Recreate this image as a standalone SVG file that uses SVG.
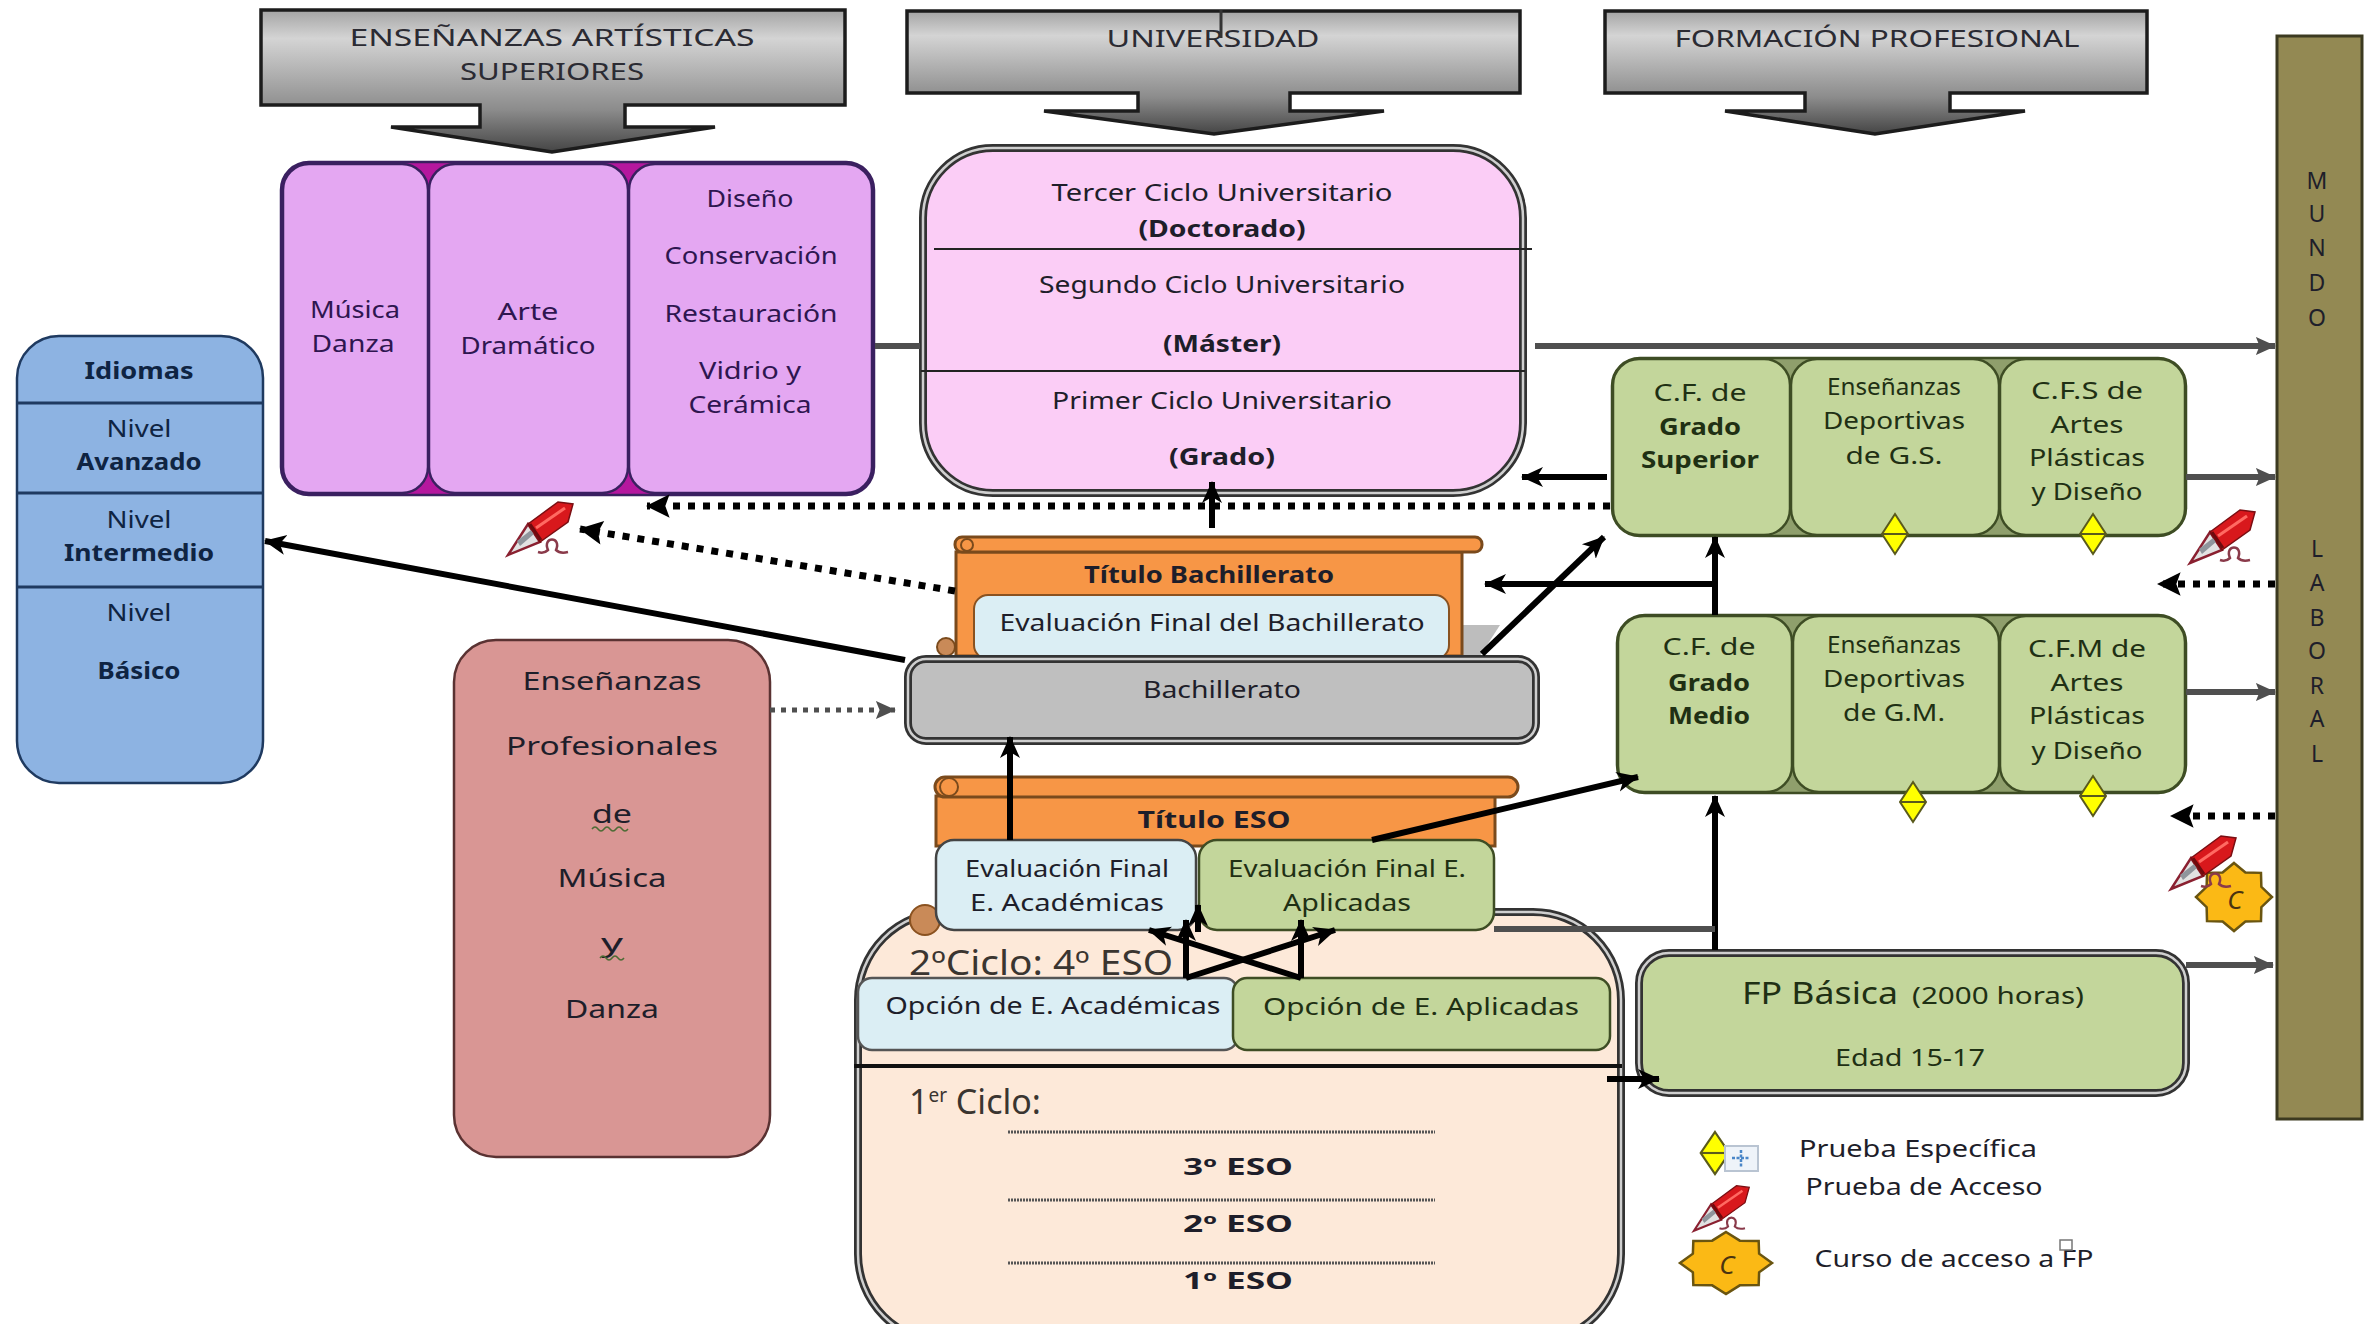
<svg xmlns="http://www.w3.org/2000/svg" width="2379" height="1324" viewBox="0 0 2379 1324">
<style>
text{font-family:"Noto Sans","Open Sans",sans-serif;font-size:23px;text-anchor:middle;fill:#1e1e2a;transform:translateY(1.5px)}
.b{font-weight:700}
.pk text{fill:#2e1650}
.gr text{fill:#1f3014}
.bl text{fill:#0f2442}
.hd text{fill:#2b2b33}
.sf{font-size:34px;fill:#3a3530;text-anchor:start}
.conn line,.conn path{fill:none}
.k{stroke:#000;stroke-width:6;marker-end:url(#ah)}
.kn{stroke:#000;stroke-width:6}
.g{stroke:#4f4f4f;stroke-width:6;marker-end:url(#ag)}
.gn{stroke:#4f4f4f;stroke-width:6}
.d{stroke:#000;stroke-width:7;stroke-dasharray:7 8;marker-end:url(#ad)}
.dg{stroke:#4f4f4f;stroke-width:5;stroke-dasharray:5 6;marker-end:url(#ag)}
.o1{stroke:#333;stroke-width:8}
.o2{fill:none;stroke:#cfcfcf;stroke-width:2.5}
.hdr{fill:url(#hg);stroke:#1c1c1c;stroke-width:3.5}
.pks{fill:#e4a7f2;stroke:#3a2060;stroke-width:2.5}
.grs{fill:#c3d69b;stroke:#3e4d24;stroke-width:2.5}
.sc{fill:#f79646;stroke:#7a4a1c;stroke-width:3}
.dot{stroke:#555;stroke-width:3;stroke-dasharray:2 1;fill:none}
</style>
<defs>
<linearGradient id="hg" x1="0" y1="0" x2="0" y2="1">
<stop offset="0" stop-color="#a4a4a4"/><stop offset=".2" stop-color="#d4d4d4"/><stop offset=".7" stop-color="#8c8c8c"/><stop offset="1" stop-color="#454545"/>
</linearGradient>
<marker id="ah" viewBox="0 0 22 22" refX="21" refY="11" markerWidth="22" markerHeight="22" markerUnits="userSpaceOnUse" orient="auto"><path d="M22,11 L0,1 L6,11 L0,21 z" fill="#000"/></marker>
<marker id="ag" viewBox="0 0 22 22" refX="21" refY="11" markerWidth="20" markerHeight="22" markerUnits="userSpaceOnUse" orient="auto"><path d="M22,11 L0,1 L4,11 L0,21 z" fill="#4f4f4f"/></marker>
<marker id="ad" viewBox="0 0 26 22" refX="25" refY="11" markerWidth="28" markerHeight="24" markerUnits="userSpaceOnUse" orient="auto"><path d="M26,11 L4,0 L8,11 L4,22 z" fill="#000"/></marker>
<g id="dia"><polygon points="0,-20 13,0 0,20 -13,0" fill="#ffff00" stroke="#5a5a1c" stroke-width="2"/><line x1="-13" y1="0" x2="13" y2="0" stroke="#5a5a1c" stroke-width="2"/></g>
<g id="pen">
<polygon points="20,24 32,42 0,55" fill="#e2e2e2" stroke="#8a2030" stroke-width="2.5"/>
<polygon points="9,41 23,30 26,34 12,46" fill="#8f959c"/>
<polygon points="20,24 50,2 65,4 60,22 32,42" fill="#d8181c" stroke="#7a0e12" stroke-width="1.5"/>
<line x1="28" y1="28" x2="57" y2="8" stroke="#ff6a62" stroke-width="3"/>
<line x1="22" y1="24" x2="33" y2="40" stroke="#6e0a0e" stroke-width="3"/>
<path d="M30,52 q6,2 10,-2 c-6,-14 14,-14 8,0 q4,4 12,2" fill="none" stroke="#8a3a4a" stroke-width="2.5"/>
</g>
<polygon id="star" points="0,-100 30,-72 71,-71 72,-30 100,0 72,30 71,71 30,72 0,100 -30,72 -71,71 -72,30 -100,0 -72,-30 -71,-71 -30,-72" fill="#fbb915" stroke="#6a5510" stroke-width="2.5" vector-effect="non-scaling-stroke"/>
</defs>
<rect width="2379" height="1324" fill="#fff"/>

<g id="hdr-artisticas" class="hd">
<path class="hdr" d="M261,10 H845 V105 H625 V127 H715 L552,152 L391,127 H480 V105 H261 Z"/>
<text x="552" y="44" textLength="405" lengthAdjust="spacingAndGlyphs">ENSEÑANZAS ARTÍSTICAS</text>
<text x="552" y="78" textLength="184" lengthAdjust="spacingAndGlyphs">SUPERIORES</text>
</g>
<g id="hdr-universidad" class="hd">
<path class="hdr" d="M907,11 H1520 V93 H1290 V111 H1384 L1214,134 L1044,111 H1138 V93 H907 Z"/>
<text x="1213" y="45" textLength="213" lengthAdjust="spacingAndGlyphs">UNIVERSIDAD</text>
<line x1="1221" y1="10" x2="1221" y2="38" stroke="#333" stroke-width="3"/>
</g>
<g id="hdr-fp" class="hd">
<path class="hdr" d="M1605,11 H2147 V93 H1950 V111 H2025 L1875,134 L1725,111 H1805 V93 H1605 Z"/>
<text x="1877" y="45" textLength="405" lengthAdjust="spacingAndGlyphs">FORMACIÓN PROFESIONAL</text>
</g>

<g id="mundo-laboral">
<rect x="2277" y="36" width="85" height="1083" fill="#938953" stroke="#3c3a20" stroke-width="3"/>
<text x="2317" y="187">M</text><text x="2317" y="220">U</text><text x="2317" y="254">N</text><text x="2317" y="289">D</text><text x="2317" y="324">O</text>
<text x="2317" y="555">L</text><text x="2317" y="589">A</text><text x="2317" y="624">B</text><text x="2317" y="657">O</text><text x="2317" y="692">R</text><text x="2317" y="725">A</text><text x="2317" y="760">L</text>
</g>

<g id="artisticas" class="pk">
<rect x="281" y="162" width="593" height="333" rx="28" fill="#b5179e" stroke="#3a2060" stroke-width="2.5"/>
<rect class="pks" x="283" y="164" width="145" height="329" rx="26"/>
<rect class="pks" x="429" y="164" width="199" height="329" rx="26"/>
<rect class="pks" x="629" y="164" width="243" height="329" rx="26"/>
<text x="355" y="316" textLength="90" lengthAdjust="spacingAndGlyphs">Música</text>
<text x="353" y="350" textLength="83" lengthAdjust="spacingAndGlyphs">Danza</text>
<text x="528" y="318" textLength="61" lengthAdjust="spacingAndGlyphs">Arte</text>
<text x="528" y="352" textLength="135" lengthAdjust="spacingAndGlyphs">Dramático</text>
<text x="750" y="205" textLength="87" lengthAdjust="spacingAndGlyphs">Diseño</text>
<text x="751" y="262" textLength="173" lengthAdjust="spacingAndGlyphs">Conservación</text>
<text x="751" y="320" textLength="173" lengthAdjust="spacingAndGlyphs">Restauración</text>
<text x="750" y="377" textLength="102" lengthAdjust="spacingAndGlyphs">Vidrio y</text>
<text x="750" y="411" textLength="123" lengthAdjust="spacingAndGlyphs">Cerámica</text>
</g>

<g id="universidad">
<rect class="o1" x="923" y="148" width="600" height="345" rx="70" fill="#fbcdf6"/>
<rect class="o2" x="923" y="148" width="600" height="345" rx="70"/>
<line x1="934" y1="249" x2="1532" y2="249" stroke="#222" stroke-width="2"/>
<line x1="921" y1="371" x2="1525" y2="371" stroke="#222" stroke-width="2"/>
<text x="1222" y="199" textLength="341" lengthAdjust="spacingAndGlyphs">Tercer Ciclo Universitario</text>
<text class="b" x="1222" y="235" textLength="167" lengthAdjust="spacingAndGlyphs">(Doctorado)</text>
<text x="1222" y="291" textLength="366" lengthAdjust="spacingAndGlyphs">Segundo Ciclo Universitario</text>
<text class="b" x="1222" y="350" textLength="118" lengthAdjust="spacingAndGlyphs">(Máster)</text>
<text x="1222" y="407" textLength="340" lengthAdjust="spacingAndGlyphs">Primer Ciclo Universitario</text>
<text class="b" x="1222" y="463" textLength="106" lengthAdjust="spacingAndGlyphs">(Grado)</text>
</g>

<g id="idiomas" class="bl">
<rect x="17" y="336" width="246" height="447" rx="42" fill="#8db3e2" stroke="#1f3a60" stroke-width="2.5"/>
<line x1="17" y1="403" x2="263" y2="403" stroke="#1f3a60" stroke-width="3"/>
<line x1="17" y1="493" x2="263" y2="493" stroke="#1f3a60" stroke-width="3"/>
<line x1="17" y1="587" x2="263" y2="587" stroke="#1f3a60" stroke-width="3"/>
<text class="b" x="139" y="377" textLength="109" lengthAdjust="spacingAndGlyphs">Idiomas</text>
<text x="139" y="435" textLength="65" lengthAdjust="spacingAndGlyphs">Nivel</text>
<text class="b" x="139" y="468" textLength="125" lengthAdjust="spacingAndGlyphs">Avanzado</text>
<text x="139" y="526" textLength="65" lengthAdjust="spacingAndGlyphs">Nivel</text>
<text class="b" x="139" y="559" textLength="150" lengthAdjust="spacingAndGlyphs">Intermedio</text>
<text x="139" y="619" textLength="65" lengthAdjust="spacingAndGlyphs">Nivel</text>
<text class="b" x="139" y="677" textLength="83" lengthAdjust="spacingAndGlyphs">Básico</text>
</g>

<g id="profesionales">
<rect x="454" y="640" width="316" height="517" rx="42" fill="#d99694" stroke="#5a3232" stroke-width="2.5"/>
<text x="612" y="688" style="font-size:26px" textLength="179" lengthAdjust="spacingAndGlyphs">Enseñanzas</text>
<text x="612" y="753" style="font-size:26px" textLength="212" lengthAdjust="spacingAndGlyphs">Profesionales</text>
<text x="612" y="821" style="font-size:26px" textLength="40" lengthAdjust="spacingAndGlyphs">de</text>
<path d="M592,829 q3,-4 6,0 t6,0 t6,0 t6,0 t6,0 t6,0" fill="none" stroke="#4d6b35" stroke-width="1.5"/>
<text x="612" y="885" style="font-size:26px" textLength="109" lengthAdjust="spacingAndGlyphs">Música</text>
<text x="612" y="950" style="font-size:26px" textLength="22" lengthAdjust="spacingAndGlyphs">y</text>
<path d="M600,958 q3,-4 6,0 t6,0 t6,0 t6,0" fill="none" stroke="#4d6b35" stroke-width="1.5"/>
<text x="612" y="1016" style="font-size:26px" textLength="94" lengthAdjust="spacingAndGlyphs">Danza</text>
</g>

<g id="titulo-bach">
<polygon points="1449,625 1500,625 1480,656 1449,656" fill="#bdbdbd"/>
<rect class="sc" x="956" y="552" width="506" height="104"/>
<rect class="sc" x="955" y="537" width="527" height="15" rx="7"/>
<circle cx="967" cy="545" r="6" fill="#f79646" stroke="#7a4a1c" stroke-width="2"/>
<circle cx="946" cy="647" r="9" fill="#c98a58" stroke="#7a4a1c" stroke-width="2"/>
<text class="b" x="1209" y="581" textLength="250" lengthAdjust="spacingAndGlyphs">Título Bachillerato</text>
<rect x="974" y="595" width="475" height="64" rx="14" fill="#dbeef4" stroke="#8a5220" stroke-width="2"/>
<text x="1212" y="629" textLength="425" lengthAdjust="spacingAndGlyphs">Evaluación Final  del Bachillerato</text>
</g>

<g id="bachillerato">
<rect class="o1" x="908" y="659" width="628" height="82" rx="18" fill="#bfbfbf"/>
<rect class="o2" x="908" y="659" width="628" height="82" rx="18"/>
<text x="1222" y="696" textLength="158" lengthAdjust="spacingAndGlyphs">Bachillerato</text>
</g>

<g id="eso">
<rect class="o1" x="858" y="912" width="763" height="430" rx="88" fill="#fde9d9"/>
<rect class="o2" x="858" y="912" width="763" height="430" rx="88"/>
<circle cx="925" cy="920" r="15" fill="#c98a58" stroke="#8a5220" stroke-width="2"/>
<text class="sf" x="909" y="973" textLength="264" lengthAdjust="spacingAndGlyphs">2ºCiclo: 4º ESO</text>
<rect x="858" y="978" width="380" height="72" rx="14" fill="#dbeef4" stroke="#555" stroke-width="2.5"/>
<text x="1053" y="1012" textLength="335" lengthAdjust="spacingAndGlyphs">Opción de E. Académicas</text>
<rect x="1233" y="978" width="377" height="72" rx="14" fill="#c3d69b" stroke="#3e4d24" stroke-width="2.5"/>
<text x="1421" y="1013" style="fill:#1f3014" textLength="316" lengthAdjust="spacingAndGlyphs">Opción de E. Aplicadas</text>
<line x1="854" y1="1066" x2="1622" y2="1066" stroke="#111" stroke-width="4"/>
<text class="sf" x="909" y="1112">1<tspan dy="-12" style="font-size:19px">er</tspan><tspan dy="12"> Ciclo:</tspan></text>
<line class="dot" x1="1008" y1="1132" x2="1435" y2="1132"/>
<line class="dot" x1="1008" y1="1200" x2="1435" y2="1200"/>
<line class="dot" x1="1008" y1="1263" x2="1435" y2="1263"/>
<text class="b" x="1238" y="1173" textLength="110" lengthAdjust="spacingAndGlyphs">3º ESO</text>
<text class="b" x="1238" y="1230" textLength="110" lengthAdjust="spacingAndGlyphs">2º ESO</text>
<text class="b" x="1238" y="1287" textLength="110" lengthAdjust="spacingAndGlyphs">1º ESO</text>
</g>

<g id="titulo-eso">
<rect class="sc" x="936" y="796" width="559" height="50"/>
<rect class="sc" x="935" y="777" width="583" height="20" rx="10"/>
<circle cx="949" cy="787" r="9" fill="#f79646" stroke="#7a4a1c" stroke-width="2"/>
<text class="b" x="1214" y="826" textLength="153" lengthAdjust="spacingAndGlyphs">Título ESO</text>
<rect x="936" y="840" width="260" height="90" rx="18" fill="#dbeef4" stroke="#444" stroke-width="2.5"/>
<text x="1067" y="875" textLength="204" lengthAdjust="spacingAndGlyphs">Evaluación Final</text>
<text x="1067" y="909" textLength="194" lengthAdjust="spacingAndGlyphs">E. Académicas</text>
<rect x="1199" y="840" width="295" height="90" rx="18" fill="#c3d69b" stroke="#3e4d24" stroke-width="2.5"/>
<text x="1347" y="875" style="fill:#1f3014" textLength="238" lengthAdjust="spacingAndGlyphs">Evaluación Final E.</text>
<text x="1347" y="909" style="fill:#1f3014" textLength="128" lengthAdjust="spacingAndGlyphs">Aplicadas</text>
</g>

<g id="cf-superior" class="gr">
<rect x="1612" y="358" width="574" height="178" rx="28" fill="#8f9f6c" stroke="#3e4d24" stroke-width="2.5"/>
<rect class="grs" x="1613" y="359" width="177" height="176" rx="26"/>
<rect class="grs" x="1791" y="359" width="208" height="176" rx="26"/>
<rect class="grs" x="2000" y="359" width="185" height="176" rx="26"/>
<text x="1700" y="399" textLength="93" lengthAdjust="spacingAndGlyphs">C.F. de</text>
<text class="b" x="1700" y="433" textLength="82" lengthAdjust="spacingAndGlyphs">Grado</text>
<text class="b" x="1700" y="466" textLength="118" lengthAdjust="spacingAndGlyphs">Superior</text>
<text x="1894" y="393" textLength="134" lengthAdjust="spacingAndGlyphs">Enseñanzas</text>
<text x="1894" y="427" textLength="142" lengthAdjust="spacingAndGlyphs">Deportivas</text>
<text x="1894" y="462" textLength="97" lengthAdjust="spacingAndGlyphs">de G.S.</text>
<text x="2087" y="397" textLength="112" lengthAdjust="spacingAndGlyphs">C.F.S de</text>
<text x="2087" y="431" textLength="73" lengthAdjust="spacingAndGlyphs">Artes</text>
<text x="2087" y="464" textLength="116" lengthAdjust="spacingAndGlyphs">Plásticas</text>
<text x="2087" y="498" textLength="111" lengthAdjust="spacingAndGlyphs">y Diseño</text>
<use href="#dia" x="1895" y="534"/>
<use href="#dia" x="2093" y="534"/>
</g>

<g id="cf-medio" class="gr">
<rect x="1617" y="615" width="569" height="178" rx="28" fill="#8f9f6c" stroke="#3e4d24" stroke-width="2.5"/>
<rect class="grs" x="1618" y="616" width="174" height="176" rx="26"/>
<rect class="grs" x="1793" y="616" width="206" height="176" rx="26"/>
<rect class="grs" x="2000" y="616" width="185" height="176" rx="26"/>
<text x="1709" y="653" textLength="93" lengthAdjust="spacingAndGlyphs">C.F. de</text>
<text class="b" x="1709" y="689" textLength="82" lengthAdjust="spacingAndGlyphs">Grado</text>
<text class="b" x="1709" y="722" textLength="82" lengthAdjust="spacingAndGlyphs">Medio</text>
<text x="1894" y="651" textLength="134" lengthAdjust="spacingAndGlyphs">Enseñanzas</text>
<text x="1894" y="685" textLength="142" lengthAdjust="spacingAndGlyphs">Deportivas</text>
<text x="1894" y="719" textLength="102" lengthAdjust="spacingAndGlyphs">de G.M.</text>
<text x="2087" y="655" textLength="118" lengthAdjust="spacingAndGlyphs">C.F.M de</text>
<text x="2087" y="689" textLength="73" lengthAdjust="spacingAndGlyphs">Artes</text>
<text x="2087" y="722" textLength="116" lengthAdjust="spacingAndGlyphs">Plásticas</text>
<text x="2087" y="757" textLength="111" lengthAdjust="spacingAndGlyphs">y Diseño</text>
<use href="#dia" x="1913" y="802"/>
<use href="#dia" x="2093" y="796"/>
</g>

<g id="fp-basica" class="gr">
<rect class="o1" x="1639" y="953" width="547" height="140" rx="30" fill="#c3d69b"/>
<rect class="o2" x="1639" y="953" width="547" height="140" rx="30"/>
<text x="1820" y="1002" style="font-size:30px" textLength="156" lengthAdjust="spacingAndGlyphs">FP Básica</text>
<text x="1998" y="1002" style="font-size:24px" textLength="172" lengthAdjust="spacingAndGlyphs">(2000 horas)</text>
<text x="1910" y="1064" textLength="150" lengthAdjust="spacingAndGlyphs">Edad 15-17</text>
</g>

<g id="connectors" class="conn">
<line class="gn" x1="875" y1="346" x2="920" y2="346"/>
<line class="g" x1="1535" y1="346" x2="2275" y2="346"/>
<line class="g" x1="2186" y1="477" x2="2275" y2="477"/>
<line class="g" x1="2186" y1="692" x2="2275" y2="692"/>
<line class="g" x1="2186" y1="965" x2="2273" y2="965"/>
<line class="k" x1="1607" y1="477" x2="1522" y2="477"/>
<line class="d" x1="1610" y1="506" x2="647" y2="506"/>
<line class="d" x1="955" y1="591" x2="580" y2="529"/>
<line class="k" x1="1212" y1="528" x2="1212" y2="482"/>
<line class="k" x1="905" y1="660" x2="265" y2="541"/>
<line class="k" x1="1482" y1="654" x2="1604" y2="537"/>
<line class="k" x1="1714" y1="584" x2="1485" y2="584"/>
<line class="k" x1="1715" y1="615" x2="1715" y2="537"/>
<line class="k" x1="1715" y1="950" x2="1715" y2="796"/>
<line class="gn" x1="1494" y1="929" x2="1715" y2="929"/>
<line class="dg" x1="770" y1="710" x2="895" y2="710"/>
<line class="k" x1="1010" y1="840" x2="1010" y2="737"/>
<line class="k" x1="1372" y1="840" x2="1638" y2="777"/>
<line class="k" x1="1186" y1="978" x2="1186" y2="920"/>
<line class="k" x1="1301" y1="978" x2="1301" y2="920"/>
<line class="k" x1="1186" y1="978" x2="1335" y2="930"/>
<line class="k" x1="1301" y1="978" x2="1149" y2="930"/>
<line class="k" x1="1198" y1="932" x2="1198" y2="905"/>
<line class="k" x1="1607" y1="1079" x2="1659" y2="1079"/>
<line class="d" x1="2275" y1="584" x2="2158" y2="584"/>
<line class="d" x1="2275" y1="816" x2="2171" y2="816"/>
</g>

<g id="acceso-marks">
<use href="#pen" transform="translate(508,500)"/>
<use href="#pen" transform="translate(2190,508)"/>
<use href="#star" transform="translate(2234,897) scale(.38,.34)"/>
<use href="#pen" transform="translate(2171,834)"/>
<text x="2235" y="907" style="font-size:26px;font-style:italic;fill:#4a3310">C</text>
</g>

<g id="leyenda">
<use href="#dia" transform="translate(1715,1153) scale(1.1,1.05)"/>
<rect x="1725" y="1146" width="33" height="25" fill="#eef3f9" stroke="#b9c4d2" stroke-width="2"/>
<path d="M1741,1150 V1167 M1732,1158 H1750" stroke="#4a86c8" stroke-width="2.5" stroke-dasharray="3 1.5"/>
<use href="#pen" transform="translate(1694,1184) scale(.85)"/>
<use href="#star" transform="translate(1726,1263) scale(.46,.31)"/>
<text x="1727" y="1272" style="font-size:26px;font-style:italic;fill:#4a3310">C</text>
<text x="1918" y="1155" textLength="238" lengthAdjust="spacingAndGlyphs">Prueba Específica</text>
<text x="1924" y="1193" textLength="237" lengthAdjust="spacingAndGlyphs">Prueba de Acceso</text>
<text x="1954" y="1265" textLength="279" lengthAdjust="spacingAndGlyphs">Curso de acceso a FP</text>
<rect x="2060" y="1240" width="12" height="10" fill="#fff" stroke="#777" stroke-width="1.5"/>
</g>
</svg>
